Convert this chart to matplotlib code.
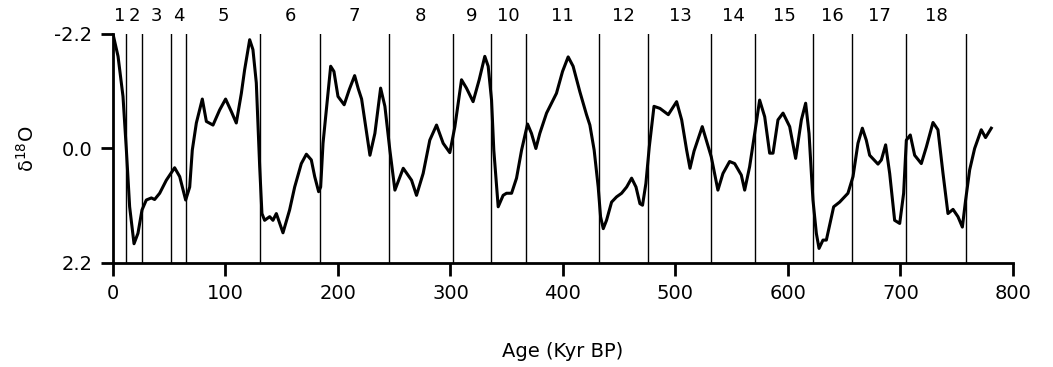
import numpy as np
import matplotlib.pyplot as plt
from matplotlib.ticker import FormatStrFormatter

# ages (kyr BP) and d18O values
age = [0, 4.5, 8.9, 11.9, 14.8, 18.7, 22.2, 25.8, 29.6, 34.1, 37, 41.5, 47.4,
       54.8, 59.3, 64.6, 68.2, 70.5, 74.1, 79.4, 83, 88.9, 94.8, 100.1, 105.2,
       109.6, 114.1, 117, 121.5, 124.4, 127.4, 130.4, 132.4, 134.8, 139.3,
       142.2, 145.2, 151.1, 157, 161.5, 167.4, 171.9, 176.3, 179.3, 182.8,
       184.6, 186.7, 189.6, 193.5, 196.4, 200, 205.5, 210, 214.8, 218, 221,
       228.4, 232.8, 237.9, 241.7, 246.1, 250.6, 258, 265.4, 269.8, 275.7,
       281.6, 287.6, 293.5, 299.4, 303.9, 309.8, 314.2, 320.1, 325.5, 330.5,
       333.5, 336.5, 338.5, 342.4, 346.8, 349.8, 354.3, 358.7, 363.2, 368.5,
       372, 375.9, 379.4, 385.4, 394.2, 399.6, 404.6, 409, 415, 420.9, 423.9,
       427.7, 431.3, 433.4, 435.8, 438.7, 443.2, 447.6, 452.1, 456.6, 461,
       464.9, 468.4, 470.7, 473.7, 476.7, 480.9, 486.2, 493.6, 501, 505.5,
       509.9, 512.9, 516.5, 523.8, 527.4, 531.8, 534.8, 537.7, 542.2, 548.1,
       552.6, 558.5, 561.5, 565.9, 570.4, 574.8, 579.3, 583.7, 586.7, 591.1,
       595.6, 601.5, 606.8, 611.9, 615.7, 618.7, 622.2, 625.2, 627.6, 631.1,
       634.1, 640.6, 645.9, 653.3, 657.8, 662.2, 666.1, 669.6, 672.6, 680,
       683, 686.8, 690.4, 694.8, 699.3, 702.8, 705.2, 708.7, 712.6, 718.5,
       723, 728.9, 733.3, 737.8, 742.2, 746.7, 751.1, 755, 757.9, 761.5,
       765.9, 771.8, 775.6, 780.7]
d18o = [-2.2, -1.77, -1.0, 0.03, 1.12, 1.83, 1.63, 1.18, 0.99, 0.95, 0.98,
        0.86, 0.61, 0.37, 0.54, 0.99, 0.74, 0.03, -0.49, -0.95, -0.52, -0.45,
        -0.74, -0.95, -0.71, -0.49, -1.06, -1.51, -2.09, -1.9, -1.26, 0.35,
        1.25, 1.38, 1.31, 1.38, 1.25, 1.62, 1.18, 0.74, 0.29, 0.11, 0.22,
        0.54, 0.83, 0.74, -0.1, -0.74, -1.58, -1.48, -1.0, -0.84, -1.13,
        -1.4, -1.15, -0.95, 0.13, -0.29, -1.16, -0.81, 0.03, 0.8, 0.38, 0.61,
        0.9, 0.48, -0.16, -0.45, -0.1, 0.08, -0.42, -1.32, -1.16, -0.9, -1.32,
        -1.77, -1.58, -0.93, 0.03, 1.12, 0.9, 0.86, 0.86, 0.57, 0.03, -0.47,
        -0.29, 0.0, -0.29, -0.68, -1.06, -1.48, -1.76, -1.58, -1.09, -0.65,
        -0.45, 0.03, 0.74, 1.31, 1.54, 1.38, 1.03, 0.93, 0.86, 0.74, 0.57,
        0.74, 1.06, 1.09, 0.67, -0.03, -0.81, -0.77, -0.65, -0.9, -0.55, 0.03,
        0.38, 0.05, -0.42, -0.16, 0.16, 0.48, 0.8, 0.48, 0.25, 0.29, 0.51,
        0.8, 0.35, -0.29, -0.93, -0.61, 0.09, 0.09, -0.55, -0.68, -0.42, 0.19,
        -0.55, -0.87, -0.29, 0.99, 1.63, 1.92, 1.76, 1.76, 1.12, 1.03, 0.86,
        0.54, -0.1, -0.39, -0.16, 0.13, 0.3, 0.22, -0.07, 0.48, 1.38, 1.44,
        0.86, -0.16, -0.26, 0.13, 0.29, -0.03, -0.5, -0.36, 0.48, 1.25, 1.17,
        1.31, 1.51, 0.99, 0.41, 0.0, -0.36, -0.21, -0.39]

# stage boundaries (kyr BP) and stage numbers
boundaries = [12, 26, 52, 65, 131, 184, 245, 302, 336, 367, 432, 476, 532,
              571, 622, 657, 705, 758]
stages = [str(i) for i in range(1, 19)]

plt.rcParams['axes.unicode_minus'] = False
plt.rcParams['font.family'] = 'DejaVu Sans'

fig = plt.figure(figsize=(10.53, 3.67), dpi=100)
ax = fig.add_axes([0.1073, 0.2834, 0.8547, 0.6240])

ax.plot(age, d18o, color='black', lw=2.2, solid_joinstyle='round', zorder=3)

for b in boundaries:
    ax.axvline(b, color='black', lw=1.0, zorder=2)

edges = [0] + boundaries
for i, s in enumerate(stages):
    xc = (edges[i] + edges[i + 1]) / 2
    ax.annotate(s, xy=(xc, -2.2), xytext=(0, 13), textcoords='offset points',
                ha='center', va='center', fontsize=13, annotation_clip=False)

ax.set_xlim(0, 800)
ax.set_ylim(2.2, -2.2)
ax.set_xticks(np.arange(0, 801, 100))
ax.set_yticks([-2.2, 0.0, 2.2])
ax.yaxis.set_major_formatter(FormatStrFormatter('%.1f'))

for side in ['top', 'right']:
    ax.spines[side].set_visible(False)
ax.spines['left'].set_linewidth(2)
ax.spines['bottom'].set_linewidth(2)
ax.tick_params(axis='both', labelsize=14, width=2, length=9, pad=6,
               direction='out')

ax.set_xlabel('Age (Kyr BP)', fontsize=14, labelpad=28)
ax.set_ylabel('δ$^{18}$O', fontsize=14, labelpad=12)

fig.savefig('out.png', dpi=100)
